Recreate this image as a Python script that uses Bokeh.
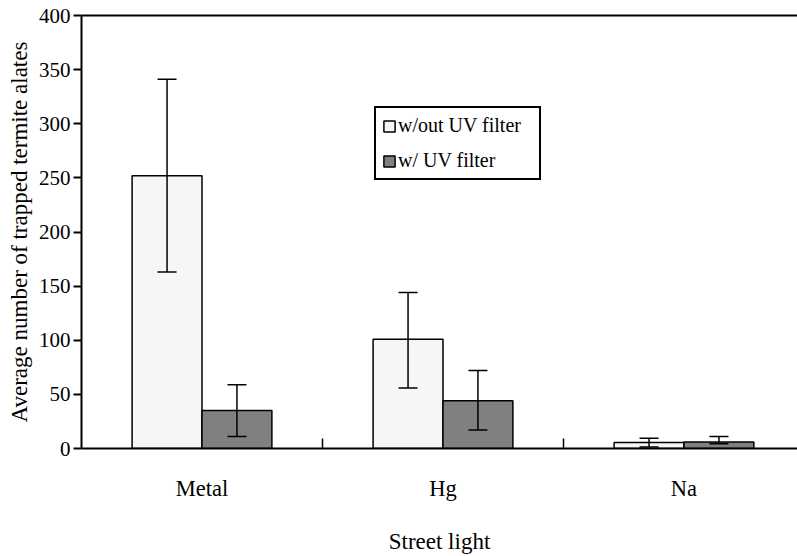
from bokeh.plotting import figure
from bokeh.models import (ColumnDataSource, Range1d, FixedTicker, Whisker, TeeHead,
                          Legend, LegendItem, LinearAxis)
from bokeh.embed import file_html
from bokeh.resources import INLINE

# ---- data ----
categories = ["Metal", "Hg", "Na"]
without_uv = [252, 101, 5.5]
without_uv_upper = [341, 144, 9.5]
without_uv_lower = [163, 56, 1.5]
with_uv = [35, 44, 6]
with_uv_upper = [59, 72, 11]
with_uv_lower = [11, 17, 4.5]
y_ticks = [0, 50, 100, 150, 200, 250, 300, 350, 400]

FONT = "Liberation Serif"
bar_w = 0.29
centers = [i + 0.5 for i in range(len(categories))]

src_a = ColumnDataSource(dict(x=[c - bar_w / 2 for c in centers], top=without_uv,
                              upper=without_uv_upper, lower=without_uv_lower))
src_b = ColumnDataSource(dict(x=[c + bar_w / 2 for c in centers], top=with_uv,
                              upper=with_uv_upper, lower=with_uv_lower))

p = figure(width=797, height=556, output_backend="svg", toolbar_location=None,
           x_range=Range1d(0, 2.971), y_range=Range1d(0, 400),
           min_border_left=81, min_border_right=0, min_border_top=15, min_border_bottom=107)
p.background_fill_color = "white"
p.border_fill_color = "white"
p.outline_line_color = None
p.grid.visible = False

ra = p.vbar(x="x", top="top", width=bar_w, bottom=0, source=src_a,
            fill_color="#f6f6f6", line_color="black", line_width=1.5)
rb = p.vbar(x="x", top="top", width=bar_w, bottom=0, source=src_b,
            fill_color="#808080", line_color="black", line_width=1.5)

for src in (src_a, src_b):
    w = Whisker(base="x", upper="upper", lower="lower", source=src, dimension="height",
                line_color="black", line_width=1.5, level="overlay",
                upper_head=TeeHead(size=19, line_color="black", line_width=1.5),
                lower_head=TeeHead(size=19, line_color="black", line_width=1.5))
    p.add_layout(w)

# y axis
ya = p.yaxis[0]
ya.ticker = FixedTicker(ticks=y_ticks)
ya.axis_label = "Average number of trapped termite alates"
ya.axis_label_text_font = FONT
ya.axis_label_text_font_size = "23px"
ya.axis_label_text_font_style = "normal"
ya.axis_label_text_color = "black"
ya.axis_label_standoff = 4
ya.major_label_text_font = FONT
ya.major_label_text_font_size = "21px"
ya.major_label_text_color = "black"
ya.major_label_standoff = 3
ya.major_tick_in = 0
ya.major_tick_out = 8
ya.major_tick_line_width = 2
ya.minor_tick_line_color = None
ya.axis_line_width = 2
ya.axis_line_color = "black"

# x axis
xa = p.xaxis[0]
xa.ticker = FixedTicker(ticks=centers, minor_ticks=[1, 2])
xa.major_label_overrides = {c: n for c, n in zip(centers, categories)}
xa.major_tick_line_color = None
xa.minor_tick_in = 10
xa.minor_tick_out = 0
xa.minor_tick_line_width = 1.5
xa.minor_tick_line_color = "black"
xa.axis_line_width = 2
xa.axis_line_color = "black"
xa.major_label_text_font = FONT
xa.major_label_text_font_size = "22.5px"
xa.major_label_text_color = "black"
xa.major_label_standoff = 21
xa.axis_label = "Street light"
xa.axis_label_text_font = FONT
xa.axis_label_text_font_size = "23px"
xa.axis_label_text_font_style = "normal"
xa.axis_label_text_color = "black"
xa.axis_label_standoff = 25

# top border line
top_axis = LinearAxis(ticker=FixedTicker(ticks=[]), axis_line_width=2, axis_line_color="black",
                      major_tick_out=0, major_tick_in=0, minor_tick_out=0, minor_tick_in=0,
                      major_label_standoff=0, major_label_text_font_size="0px")
p.add_layout(top_axis, "above")

legend = Legend(items=[LegendItem(label="w/out UV filter", renderers=[ra]),
                       LegendItem(label="w/ UV filter", renderers=[rb])],
                location=(293, 268), margin=0, padding=6, spacing=12,
                glyph_width=14, glyph_height=14, label_standoff=2,
                label_width=135, label_height=20,
                label_text_font=FONT, label_text_font_size="20px", label_text_color="black",
                border_line_color="black", border_line_width=2, border_line_alpha=1,
                background_fill_color="white", background_fill_alpha=1)
p.add_layout(legend)

open("out.html", "w").write(file_html(p, INLINE))
